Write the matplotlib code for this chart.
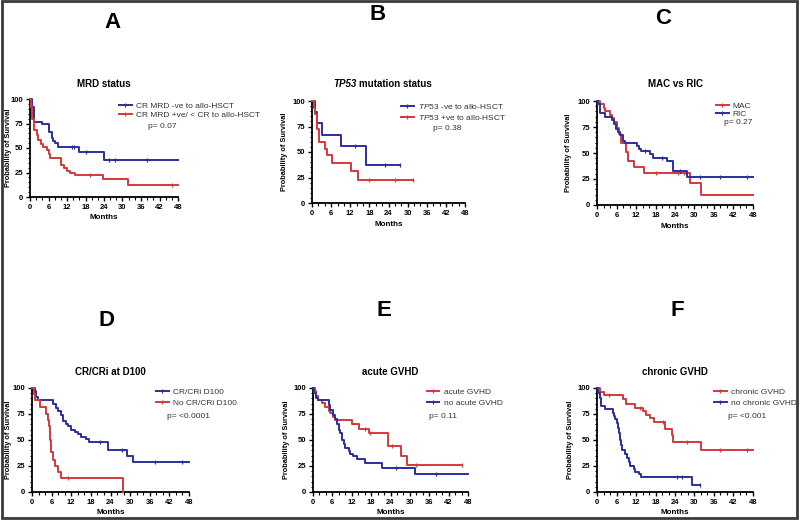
import numpy as np
import matplotlib
matplotlib.use('Agg')
import matplotlib.pyplot as plt
from matplotlib.lines import Line2D
from matplotlib.patches import Rectangle
from matplotlib.ticker import MultipleLocator

plt.rcParams['font.family'] = ['Liberation Sans', 'DejaVu Sans']
plt.rcParams['mathtext.fontset'] = 'custom'
plt.rcParams['mathtext.it'] = 'Liberation Sans:italic'
plt.rcParams['mathtext.rm'] = 'Liberation Sans'

BLUE = '#2c2f9c'
RED = '#d23a3c'
W, H = 800, 520

# --- survival curves (months, % surviving) ---
# A: MRD status
a_blue_t = [0, 0.5, 1.4, 3.8, 6.3, 7.0, 7.5, 8.1, 9.2, 16.0, 24.0, 48]
a_blue_s = [100, 92, 77, 74, 66, 60, 57, 55, 51, 46, 38, 38]
a_blue_c = [13.5, 14.3, 18.3, 25.5, 27.5, 37.8]
a_red_t = [0, 0.3, 0.8, 1.4, 2.2, 2.7, 3.5, 4.3, 5.4, 6.0, 6.5, 10, 11, 12, 13, 14.5, 23.7, 31.8, 48]
a_red_s = [100, 92, 80, 68, 63, 58, 54, 51, 48, 44, 40, 33, 30, 27, 25, 22, 18, 12, 12]
a_red_c = [19.5, 46]

# B: TP53 mutation status
b_blue_t = [0, 0.8, 1.6, 3.1, 9.2, 16.9, 27.7]
b_blue_s = [100, 89, 78, 67, 56, 37, 37]
b_blue_c = [13.4, 23, 27.7]
b_red_t = [0, 0.5, 1.0, 1.6, 2.3, 4.0, 4.7, 6.3, 12.3, 14.4, 31.8]
b_red_s = [100, 93, 87, 73, 60, 53, 47, 39, 31, 23, 23]
b_red_c = [18, 26, 31.8]

# C: MAC vs RIC
c_red_t = [0, 1, 2, 2.6, 4.1, 4.6, 5.1, 6, 6.7, 7.4, 9, 9.5, 11.5, 14.4, 28.7, 32, 48]
c_red_s = [100, 97, 93, 90, 87, 84, 80, 74, 68, 60, 51, 42, 37, 31, 21, 10, 10]
c_red_c = [18.3, 25, 26.7]
c_blue_t = [0, 0.2, 0.8, 2.6, 4.6, 5.1, 5.9, 6.6, 7.2, 8.0, 8.5, 12.3, 12.8, 13.5, 16.4, 17.2, 21.5, 23.4, 27.7, 48]
c_blue_s = [100, 97, 88, 85, 82, 78, 73, 70, 67, 62, 60, 57, 54, 52, 49, 45, 42, 33, 27, 27]
c_blue_c = [14.7, 20, 25.6, 31.8, 37.9, 46.2]

# D: CR/CRi at D100
d_blue_t = [0, 0.8, 1.3, 1.8, 6.4, 7.2, 8.0, 8.8, 9.5, 10.3, 11.0, 12.0, 13.0, 14.0, 15.1, 16.4, 17.5, 23.3, 28.9, 31.0, 48]
d_blue_s = [100, 97, 91, 88, 85, 81, 78, 74, 68, 65, 63, 60, 58, 56, 53, 51, 48, 40, 35, 29, 29]
d_blue_c = [20.7, 27.4, 37.6, 45.8]
d_red_t = [0, 0.5, 1.0, 2.3, 4.4, 4.9, 5.2, 5.4, 5.6, 5.9, 6.5, 6.9, 8.0, 9.0, 27.9]
d_red_s = [100, 94, 88, 82, 75, 69, 63, 56, 50, 38, 31, 25, 19, 13, 0]
d_red_c = [11]

# E: acute GVHD
e_red_t = [0, 0.5, 1.0, 1.7, 2.8, 3.8, 4.8, 5.3, 6.2, 6.9, 12.0, 14.1, 17.2, 23.3, 27.4, 29.0, 46.0]
e_red_s = [100, 97, 92, 88, 86, 82, 78, 76, 72, 69, 65, 61, 57, 44, 35, 26, 26]
e_red_c = [16.1, 17.7, 24.5, 32, 46]
e_blue_t = [0, 0.4, 0.9, 1.7, 4.8, 5.3, 6.2, 6.9, 7.4, 7.9, 8.4, 8.9, 9.5, 10.0, 11.0, 11.5, 12.3, 13.6, 16.1, 21.3, 31.6, 48]
e_blue_s = [100, 95, 90, 88, 84, 79, 74, 70, 65, 60, 57, 50, 46, 42, 39, 37, 35, 32, 28, 23, 17, 17]
e_blue_c = [25.7, 38]

# F: chronic GVHD
f_red_t = [0, 1, 2, 8, 9, 11.8, 14.2, 15.2, 16.4, 17.4, 21.0, 23.2, 23.5, 32.0, 48]
f_red_s = [100, 96, 93, 89, 85, 81, 78, 74, 71, 67, 61, 55, 48, 40, 40]
f_red_c = [3.6, 13.3, 20.3, 27.7, 38, 46.2]
f_blue_t = [0, 0.3, 0.8, 1.2, 2.6, 4.9, 5.3, 5.6, 6.0, 6.4, 6.7, 7.0, 7.4, 7.7, 8.7, 9.2, 9.7, 10.3, 11.3, 11.8, 12.8, 13.6, 29.2, 31.8]
f_blue_s = [100, 95, 90, 83, 80, 76, 73, 70, 66, 62, 57, 50, 45, 40, 37, 33, 29, 25, 22, 19, 17, 14, 7, 7]
f_blue_c = [24.6, 26.2, 31.8]

letters = ['A', 'B', 'C', 'D', 'E', 'F']
titles = ['MRD status', None, 'MAC vs RIC', 'CR/CRi at D100', 'acute GVHD', 'chronic GVHD']
pvalues = ['p= 0.07', 'p= 0.38', 'p= 0.27', 'p= <0.0001', 'p= 0.11', 'p= <0.001']
x_ticks = list(range(0, 49, 6))
y_ticks = [0, 25, 50, 75, 100]

# each panel: list of (times, surv, censored, colour, label) in legend order
series = [
    [(a_blue_t, a_blue_s, a_blue_c, BLUE, 'CR MRD -ve to allo-HSCT'),
     (a_red_t, a_red_s, a_red_c, RED, 'CR MRD +ve/ < CR to allo-HSCT')],
    [(b_blue_t, b_blue_s, b_blue_c, BLUE, r'$\it{TP53}$ -ve to allo-HSCT'),
     (b_red_t, b_red_s, b_red_c, RED, r'$\it{TP53}$ +ve to allo-HSCT')],
    [(c_red_t, c_red_s, c_red_c, RED, 'MAC'),
     (c_blue_t, c_blue_s, c_blue_c, BLUE, 'RIC')],
    [(d_blue_t, d_blue_s, d_blue_c, BLUE, 'CR/CRi D100'),
     (d_red_t, d_red_s, d_red_c, RED, 'No CR/CRi D100')],
    [(e_red_t, e_red_s, e_red_c, RED, 'acute GVHD'),
     (e_blue_t, e_blue_s, e_blue_c, BLUE, 'no acute GVHD')],
    [(f_red_t, f_red_s, f_red_c, RED, 'chronic GVHD'),
     (f_blue_t, f_blue_s, f_blue_c, BLUE, 'no chronic GVHD')],
]

# layout in pixels: axes box (x0, ytop, x1, ybottom), letter pos, ylabel x, xlabel y,
# legend top-left, p-value pos, legend row spacing
layout = [
    dict(box=(30, 99, 178, 197), letter=(112, 22), title_y=84, ylab_x=9, xlab_y=217,
         leg=(119, 102), p=(148, 127), sp=0.15),
    dict(box=(312, 101, 465, 203), letter=(378, 15), title_y=84, ylab_x=285, xlab_y=225,
         leg=(401, 102), p=(433, 128), sp=0.2),
    dict(box=(597, 101, 753, 205), letter=(663, 18), title_y=84, ylab_x=569, xlab_y=227,
         leg=(716, 102), p=(724, 123), sp=0.0),
    dict(box=(32, 388, 189, 492), letter=(107, 320), title_y=372, ylab_x=9, xlab_y=513,
         leg=(156, 388), p=(167, 416), sp=0.35),
    dict(box=(313, 388, 468, 492), letter=(384, 311), title_y=372, ylab_x=286, xlab_y=513,
         leg=(427, 388), p=(429, 417), sp=0.35),
    dict(box=(597, 388, 753, 492), letter=(677, 310), title_y=372, ylab_x=570, xlab_y=513,
         leg=(714, 388), p=(728, 417), sp=0.35),
]


def fx(x):
    return x / W


def fy(y):
    return 1 - y / H


def surv_at(t, s, c):
    idx = np.searchsorted(np.array(t), np.array(c), side='right') - 1
    return np.array(s)[idx]


fig = plt.figure(figsize=(8, 5.2), dpi=100)

for i in range(6):
    L = layout[i]
    x0, y0, x1, y1 = L['box']
    ax = fig.add_axes([fx(x0), fy(y1), (x1 - x0) / W, (y1 - y0) / H])
    handles = []
    for t, s, c, col, lab in series[i]:
        ax.step(t, s, where='post', color=col, lw=1.4, clip_on=False, zorder=3)
        ax.plot(c, surv_at(t, s, c), ls='none', marker='|', ms=3, mew=0.9,
                color=col, clip_on=False, zorder=3)
        handles.append(Line2D([], [], color=col, lw=1.4, marker='|', ms=3, mew=0.9, label=lab))

    ax.set_xlim(0, 48)
    ax.set_ylim(0, 100)
    ax.set_xticks(x_ticks)
    ax.set_yticks(y_ticks)
    ax.xaxis.set_minor_locator(MultipleLocator(2))
    ax.yaxis.set_minor_locator(MultipleLocator(5))
    for sp in ['top', 'right']:
        ax.spines[sp].set_visible(False)
    for sp in ['left', 'bottom']:
        ax.spines[sp].set_linewidth(1.3)
    ax.tick_params(which='major', length=3, width=1, labelsize=5.5, pad=2)
    ax.tick_params(which='minor', length=1.8, width=0.8)
    for lbl in ax.get_xticklabels() + ax.get_yticklabels():
        lbl.set_fontweight('bold')

    cx = (x0 + x1) / 2
    fig.text(fx(L['ylab_x']), fy((y0 + y1) / 2), 'Probability of Survival', rotation=90,
             ha='center', va='center', fontsize=5.3, fontweight='bold')
    fig.text(fx(cx), fy(L['xlab_y']), 'Months', ha='center', va='center',
             fontsize=5.8, fontweight='bold')
    if titles[i] is not None:
        fig.text(fx(cx), fy(L['title_y']), titles[i], ha='center', va='center',
                 fontsize=7, fontweight='bold')
    else:
        fig.text(fx(357), fy(L['title_y']), 'TP53', ha='right', va='center',
                 fontsize=7, fontweight='bold', fontstyle='italic')
        fig.text(fx(359), fy(L['title_y']), 'mutation status', ha='left', va='center',
                 fontsize=7, fontweight='bold')

    lx, ly = L['leg']
    leg = fig.legend(handles=handles, loc='upper left', bbox_to_anchor=(fx(lx), fy(ly)),
                     bbox_transform=fig.transFigure, frameon=False, fontsize=6,
                     handlelength=1.5, handletextpad=0.5, borderpad=0, borderaxespad=0,
                     labelspacing=L['sp'])
    for txt in leg.get_texts():
        txt.set_color('#333333')
    px, py = L['p']
    fig.text(fx(px), fy(py), pvalues[i], ha='left', va='center', fontsize=6, color='#333333')

    lxp, lyp = L['letter']
    fig.text(fx(lxp), fy(lyp), letters[i], ha='center', va='center', fontsize=16,
             fontweight='bold', family=['Liberation Sans Narrow', 'Liberation Sans', 'DejaVu Sans'])

fig.add_artist(Rectangle((2 / W, 2 / H), 795 / W, 517 / H, transform=fig.transFigure,
                         fill=False, ec='#3a3a3a', lw=2))

fig.savefig('out.png', dpi=100, facecolor='white')
